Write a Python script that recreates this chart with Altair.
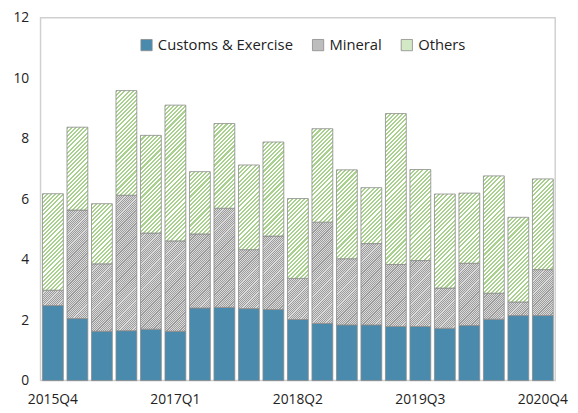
import altair as alt
import pandas as pd

quarters = ["2015Q4", "2016Q1", "2016Q2", "2016Q3", "2016Q4", "2017Q1", "2017Q2",
            "2017Q3", "2017Q4", "2018Q1", "2018Q2", "2018Q3", "2018Q4", "2019Q1",
            "2019Q2", "2019Q3", "2019Q4", "2020Q1", "2020Q2", "2020Q3", "2020Q4"]
customs = [2.48, 2.05, 1.63, 1.65, 1.70, 1.63, 2.40, 2.42, 2.38, 2.35, 2.02,
           1.89, 1.84, 1.84, 1.79, 1.79, 1.73, 1.82, 2.03, 2.15, 2.15]
mineral = [0.51, 3.59, 2.23, 4.48, 3.18, 2.99, 2.45, 3.28, 1.95, 2.43, 1.36,
           3.35, 2.19, 2.69, 2.05, 2.18, 1.33, 2.06, 0.86, 0.45, 1.52]
others = [3.19, 2.74, 1.99, 3.46, 3.23, 4.49, 2.06, 2.80, 2.80, 3.11, 2.64,
          3.09, 2.94, 1.85, 4.99, 3.01, 3.11, 2.32, 3.88, 2.80, 3.00]
series = ["Customs & Exercise", "Mineral", "Others"]
label_quarters = ["2015Q4", "2017Q1", "2018Q2", "2019Q3", "2020Q4"]

rows = []
for i, q in enumerate(quarters):
    for k, (name, vals) in enumerate(zip(series, [customs, mineral, others])):
        rows.append({"quarter": q, "series": name, "value": vals[i], "order": k})
df = pd.DataFrame(rows)

FONT = "Open Sans"
W, H = 522, 368
Y_MAX = 12
P_IN, P_OUT = 0.15, 0.08

# Striped gradients imitate the hatched fills of the original
step = W / (len(quarters) - P_IN + 2 * P_OUT)
bw = step * (1 - P_IN)


def hatch(value, c1, c2, period, frac=0.5):
    h = value * H / Y_MAX
    lam = (bw + h) / (bw ** 2 + h ** 2)
    ps = period / (bw + h)
    stops = []
    k = 0
    while k * ps < 1:
        a = k * ps
        b = min((k + frac) * ps, 1)
        c = min((k + 1) * ps, 1)
        stops += [{"offset": round(a, 5), "color": c1},
                  {"offset": round(b, 5), "color": c1},
                  {"offset": round(b, 5), "color": c2},
                  {"offset": round(c, 5), "color": c2}]
        k += 1
    return {"gradient": "linear", "x1": 0, "y1": 0,
            "x2": round(lam * bw, 5), "y2": round(lam * h, 5), "stops": stops}


conditions = [
    {"test": f"datum.quarter === '{q}' && datum.series === 'Others'",
     "value": hatch(v, "#a9d18e", "#ffffff", 4.2)}
    for q, v in zip(quarters, others)
] + [
    {"test": f"datum.quarter === '{q}' && datum.series === 'Mineral'",
     "value": hatch(v, "#9c9c9c", "#dadada", 2.2)}
    for q, v in zip(quarters, mineral)
]

chart = alt.Chart(df).mark_bar(stroke="#8a8a8a", strokeWidth=0.8).encode(
    x=alt.X("quarter:N", sort=quarters, title=None,
            scale=alt.Scale(paddingInner=P_IN, paddingOuter=P_OUT),
            axis=alt.Axis(values=label_quarters, labelAngle=0, ticks=False,
                          domain=False, labelPadding=12, labelFontSize=14,
                          labelColor="#222222", labelFont=FONT)),
    y=alt.Y("value:Q", stack="zero", title=None,
            scale=alt.Scale(domain=[0, Y_MAX], nice=False),
            axis=alt.Axis(values=[0, 2, 4, 6, 8, 10, 12], grid=False, ticks=False,
                          domain=False, labelPadding=12, labelFontSize=14,
                          labelColor="#222222", labelFont=FONT)),
    fill=alt.Fill("series:N", sort=series,
                  scale=alt.Scale(domain=series,
                                  range=["#4a8bad", "#bdbdbd", "#d3e8c5"]),
                  condition=conditions,
                  legend=alt.Legend(title=None, orient="none", direction="horizontal",
                                    legendX=100, legendY=20, symbolType="square",
                                    symbolSize=130, symbolStrokeColor="#8a8a8a",
                                    symbolStrokeWidth=0.8, labelFontSize=15,
                                    labelFont=FONT, labelColor="#222222",
                                    columnPadding=17, symbolOffset=0)),
    order=alt.Order("order:Q"),
).properties(
    width=W, height=H,
    autosize=alt.AutoSizeParams(type="none"),
    padding={"left": 33, "top": 7, "right": 15, "bottom": 30},
).configure_view(
    stroke="#d0d0d0", strokeWidth=1.5
)

chart.save("out.html", embed_options={"renderer": "svg", "actions": False})
